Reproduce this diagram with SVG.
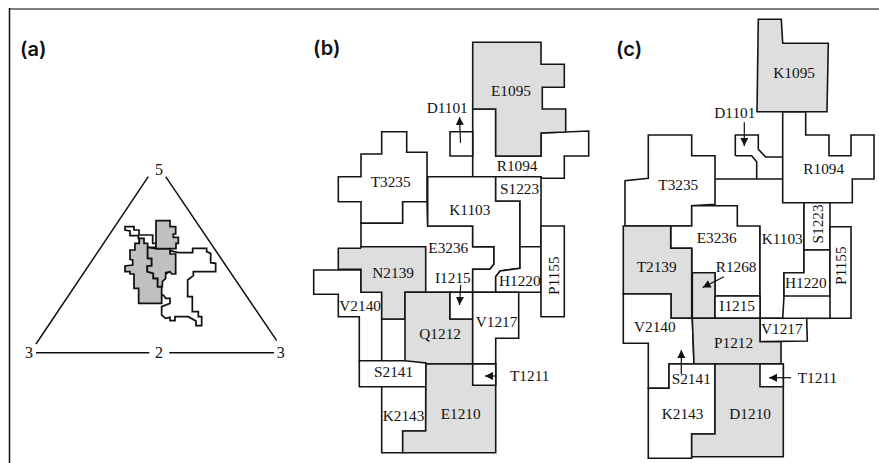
<svg xmlns="http://www.w3.org/2000/svg" width="879" height="463" viewBox="0 0 879 463">
<style>
text{font-family:"Liberation Serif",serif;font-size:15.3px;fill:#111}
text.p{font-family:Inter,"Liberation Sans",sans-serif;font-size:20px;font-weight:600;fill:#111}
text.n{font-size:16px}
.w,.g,.l{stroke:#151515;stroke-width:1.6;stroke-linejoin:miter}
.w{fill:#fff}.g{fill:#dedede}.l{fill:none}
.a{stroke:#111;stroke-width:1.2;fill:none;marker-end:url(#h)}
.t{stroke:#111;stroke-width:1.5;fill:none}
.b{stroke:#111;stroke-width:5.2;stroke-linejoin:miter}
</style>
<defs><marker id="h" markerUnits="userSpaceOnUse" markerWidth="10" markerHeight="10" refX="8" refY="4" orient="auto"><path d="M0 0L8 4L0 8z" fill="#111"/></marker></defs>
<rect width="879" height="463" fill="#fff"/>
<path d="M9 9H879" stroke="#808080" stroke-width="2" fill="none"/>
<path d="M9.5 8V463" stroke="#111" stroke-width="1.5" fill="none"/>
<text class="p" x="20" y="56">(a)</text>
<text class="p" x="313" y="55">(b)</text>
<text class="p" x="616" y="56">(c)</text>

<g id="panel-a">
<path class="t" d="M148.3 176.7L36 344M165.7 176.7L276.7 340.7M36 352.7H149.3M169.3 352.7H274"/>
<text class="n" x="155" y="175">5</text><text class="n" x="25" y="357.7">3</text><text class="n" x="155" y="357.7">2</text><text class="n" x="276.7" y="357.7">3</text>
<g transform="translate(0 130) scale(.33333)">
<path class="b" fill="#fff" d="M375 290H402V300H417V315H458V340H468V352H418V325H415L415 317H390V303L375 300z"/>
<path class="b" fill="#fff" d="M510 362L535 368H578V355H620V365L632 370V398L647 400V425H580V437L563 450V500H577V545H595V560H605V587H588V573L565 560H525V572H510V562L497 565L485 555V530L510 520V505H497L490 495H480V440L510 425z"/>
<path class="b" fill="#c0c0c0" d="M418 340V325H432V340H443V385H455V408H442V425L460 430V445H473V470H485V520H416V475H402V432H390V425H375V408L398 405V390L390 388V360H405V340z"/>
<path class="b" fill="#c0c0c0" d="M443 352L468 356H510V372H527V432H515L510 425L497 428V445L487 455V470H473V445H460V430L442 425V408H455V385H443z"/>
<path class="b" fill="#c0c0c0" d="M468 272H510V290H527V312H520V322H535V340H528V356H468z"/>
</g>
</g>

<g id="panel-b">
<g id="b-R1094"><path class="w" d="M472.7 109H495.7V156H541V133L588.7 131V156H564.3V178.3H541V176.7H472.7z"/><text x="496.7" y="171.3">R1094</text></g>
<g id="b-E1095"><path class="g" d="M472.7 42.3H541V64.3H564.3V87.3H542.3V109H565.7V132L541 133V156H495.7V109H472.7z"/><text x="491" y="96">E1095</text></g>
<g id="b-D1101"><path class="w" d="M450 131.7H472.7V156H450z"/><text x="426.7" y="113.3">D1101</text></g>
<g id="b-T3235"><path class="w" d="M381.7 131.7H406.7V152.3H427V201.7H402.7V223.3H361V201.7H338.3V176.7H361V154H381.7z"/><text x="370.7" y="187.3">T3235</text></g>
<g id="b-E3236"><path class="w" d="M361 223.3H402.7V201.7H427L427.7 226H472.7V246.7H494V264L490 269.3H472.7V292.3H405V319H381.7V292.3H361z"/><text x="428.3" y="252.7">E3236</text></g>
<g id="b-K1103"><path class="w" d="M427.7 176.7H495.7V201H520V268.3L500 271L495.7 276.7V292.3H472.7V269.3H490L494 264V246.7H472.7V226H427.7z"/><text x="449.3" y="215">K1103</text></g>
<g id="b-S1223"><path class="w" d="M495.7 176.7H541V246.7H520V201H495.7z"/><text x="500" y="194">S1223</text></g>
<g id="b-H1220"><path class="w" d="M520 246.7H541V292.3H495.7V276.7L500 271L520 268.3z"/><text x="499" y="286">H1220</text></g>
<g id="b-P1155"><path class="w" d="M541 226H564.3V316.7H541z"/><text transform="translate(558.7 295) rotate(-90)">P1155</text></g>
<g id="b-V2140"><path class="w" d="M313.7 270H361V292.3H381.7V360.7H359.3V316.7H338.3V294.3H313.7z"/><text x="339.3" y="311">V2140</text></g>
<g id="b-N2139"><path class="g" d="M338.3 248.3H360.3L361 246.7H425.7V292.3H405V319H381.7V292.3H361V269.3H338.3z"/><text x="372.3" y="278.3">N2139</text></g>
<g id="b-Q1212"><path class="g" d="M405 292.3H450V319H472.7V364L426 364L405 362.3z"/><text x="419.3" y="339.3">Q1212</text></g>
<g id="b-I1215"><path class="w" d="M450 292.3H472.7V319H450z"/><text x="435" y="283.3">I1215</text></g>
<g id="b-V1217"><path class="w" d="M472.7 292.3H518.7V338.3H495.7V364H472.7z"/><text x="475.7" y="327.3">V1217</text></g>
<g id="b-S2141"><path class="w" d="M359.3 360.7H405L426 363V386.7H359.3z"/><text x="374" y="377.3">S2141</text></g>
<g id="b-K2143"><path class="w" d="M381.7 386.7H425.7V431H402.7V452.7H381.7z"/><text x="382.7" y="420.7">K2143</text></g>
<g id="b-E1210"><path class="g" d="M426 364H495.7V452.7H402.7V431H425.7z"/><text x="440.7" y="419">E1210</text></g>
<g id="b-T1211"><path class="w" d="M472.7 364H495.7V385.3H472.7z"/><text x="510" y="380.7">T1211</text></g>
</g>

<g id="panel-c">
<g id="c-R1094"><path class="w" d="M782.7 111.7H805.7V135H829V155.7H851V135H874V179H852.3V202.7H782.7z"/><text x="803.3" y="174">R1094</text></g>
<g id="c-K1095"><path class="g" d="M758.3 19.3H781.3L782.7 43.3H828.3L827 111.7H757z"/><text x="773.3" y="78.3">K1095</text></g>
<g id="c-D1101"><path class="l" d="M735.3 155.7V135H758.3V149.3L765.7 157H782.7M735.3 155.7H751.7L756.7 161.7V179M715 179H782.7"/><text x="714.3" y="118.3">D1101</text></g>
<g id="c-T3235"><path class="w" d="M648.3 135H691.7V155.7H715V204.3L691.7 205.7V226H625V180.7L648.3 178.3z"/><text x="658.3" y="190">T3235</text></g>
<g id="c-E3236"><path class="w" d="M691.7 205.7H737.3V226H760V296H715V272.7H691.7V248.3H670.7V226H691.7z"/><text x="696.7" y="243.3">E3236</text></g>
<g id="c-K1103"><path class="w" d="M760 226V318.3H782.7L784 296V272.7H804V202.7"/><text x="761.7" y="244">K1103</text></g>
<g id="c-S1223"><path class="w" d="M804 202.7H830V250H804z"/><text transform="translate(822.7 243.5) rotate(-90)">S1223</text></g>
<g id="c-H1220"><path class="w" d="M804 250H830V296H784V272.7H804z"/><text x="785" y="288.3">H1220</text></g>
<g id="c-P1155"><path class="w" d="M830 226.7H851V318.3H830z"/><text transform="translate(845.7 285) rotate(-90)">P1155</text></g>
<g id="c-T2139"><path class="g" d="M623.3 226H670.7V248.3H691.7V318.3H671V294H623.3z"/><text x="636.7" y="272">T2139</text></g>
<g id="c-R1268"><path class="g" d="M692.3 272.7H715V318.3H692.3z"/><text x="715.7" y="272">R1268</text></g>
<g id="c-I1215"><path class="w" d="M715 296H760V318.3H715z"/><text x="719.3" y="311">I1215</text></g>
<g id="c-V2140"><path class="w" d="M623.3 294H671V318.3H692.3L694 364H669V388.3H648.3V343.3H623.3z"/><text x="634" y="331.7">V2140</text></g>
<g id="c-V1217"><path class="w" d="M760 318.3H806.7L807.3 341L760 341.7z"/><path class="l" d="M806.7 318.3H830"/><text x="761" y="334.3">V1217</text></g>
<g id="c-P1212"><path class="g" d="M692.3 318.3H760V341.7H781V364H694z"/><text x="714" y="347.7">P1212</text></g>
<g id="c-K2143"><path class="w" d="M669 364H715V434H691.7V458.3H648.3V388.3H669z"/><text x="671.7" y="384">S2141</text><text x="661.7" y="419.3">K2143</text></g>
<g id="c-D1210"><path class="g" d="M715 364H783.3V456.7H691.7V434H715z"/><text x="729.3" y="419.3">D1210</text></g>
<g id="c-T1211"><path class="w" d="M760 364H783.3V386.7H760z"/><text x="797.7" y="382.7">T1211</text></g>
</g>

<g id="connectors">
<path class="a" d="M460.5 142.7L459.5 117"/>
<path class="a" d="M460.7 285L459.5 305"/>
<path class="a" d="M497 376H485"/>
<path class="a" d="M744.3 122.3V146"/>
<path class="a" d="M724 276.7L702.7 287.5"/>
<path class="a" d="M681.3 374V350"/>
<path class="a" d="M791 377.7H769"/>
</g>
</svg>
